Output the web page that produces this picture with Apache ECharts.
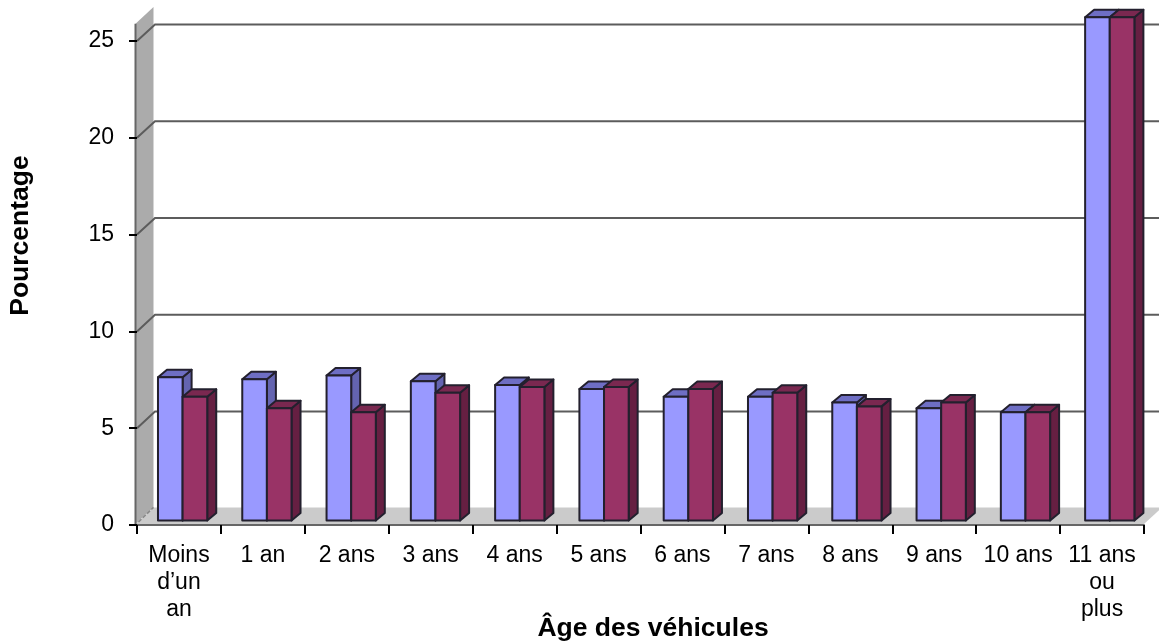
<!DOCTYPE html>
<html><head><meta charset="utf-8">
<style>html,body{margin:0;padding:0;background:#fff}#c{width:1159px;height:644px}</style>
<script src="https://cdn.jsdelivr.net/npm/echarts@6/dist/echarts.min.js"></script>
</head><body><div id="c"></div>
<script>
const categories = ['Moins\nd’un\nan','1 an','2 ans','3 ans','4 ans','5 ans','6 ans','7 ans','8 ans','9 ans','10 ans','11 ans\nou\nplus'];
const seriesA = [7.4,7.3,7.5,7.2,7.0,6.8,6.4,6.4,6.1,5.8,5.6,26.0];
const seriesB = [6.4,5.8,5.6,6.6,6.9,6.9,6.8,6.6,5.9,6.1,5.6,26.0];
const gridValues = [5,10,15,20,25];
const wallTop = 26.05;

const DX = 18, DY = 16.6;          // depth of the box
const BDX = 9, BDY = 7.5;          // depth of a bar
const BASE_LIFT = 4.4;             // bars stand slightly behind the front edge
const PERSPECTIVE = 0.37;          // extra horizontal spread of bars per category

const font = '"Liberation Sans", Arial, sans-serif';
const chart = echarts.init(document.getElementById('c'), null, {renderer:'canvas'});

function frameItem(params, api){
  const w = api.size([1,0])[0];
  const o = api.coord([0, 0]);
  const left = o[0] - w/2;
  const right = api.coord([categories.length-1, 0])[0] + w/2;
  const x0 = left - 1.5, y0 = o[1] - 1;
  const top = api.coord([0, wallTop])[1];
  return {type:'group', children:[
    {type:'polygon', shape:{points:[[x0,y0],[x0+DX,y0-DY],[x0+DX,top-DY+3],[x0,top+3]]}, style:{fill:'#ababab'}},
    {type:'polygon', shape:{points:[[x0,y0],[x0+DX,y0-DY],[right+DX,y0-DY],[right,y0]]}, style:{fill:'#cbcbcb'}},
    {type:'line', shape:{x1:x0,y1:y0+1,x2:x0,y2:top+3}, style:{stroke:'#666',lineWidth:2}},
    {type:'line', shape:{x1:x0+3,y1:y0-2,x2:x0+DX,y2:y0-DY}, style:{stroke:'#888',lineWidth:1.5,lineDash:[4,2]}}
  ]};
}
function gridItem(params, api){
  const w = api.size([1,0])[0];
  const p = api.coord([0, api.value(0)]);
  const left = p[0] - w/2;
  return {type:'polyline', shape:{points:[[left,p[1]],[left+DX,p[1]-DY],[api.getWidth(),p[1]-DY]]},
    style:{fill:null, stroke:'#5c5c5c', lineWidth:2}};
}
function barItem(slot, fills){
  return function(params, api){
    const cat = api.value(0), val = api.value(1);
    const c = api.coord([cat, 0]);
    const top = api.coord([cat, val])[1] - BASE_LIFT;
    const w = api.size([1,0])[0];
    const bw = w * 0.2935;
    const x = c[0] - w/2 + w*0.25 + slot*bw + cat*PERSPECTIVE;
    const b = c[1] - BASE_LIFT;
    const stroke = {stroke:'#23202e', lineWidth:2, lineJoin:'round'};
    return {type:'group', children:[
      {type:'polygon', shape:{points:[[x+bw,b],[x+bw+BDX,b-BDY],[x+bw+BDX,top-BDY],[x+bw,top]]}, style:Object.assign({fill:fills[2]},stroke)},
      {type:'polygon', shape:{points:[[x,top],[x+BDX,top-BDY],[x+bw+BDX,top-BDY],[x+bw,top]]}, style:Object.assign({fill:fills[1]},stroke)},
      {type:'rect', shape:{x:x,y:top,width:bw,height:b-top}, style:Object.assign({fill:fills[0]},stroke)}
    ]};
  };
}
const blue = ['#9999ff','#6e6ec4','#6464b0'];
const maroon = ['#993366','#7a2850','#661f42'];

chart.setOption({
  animation:false,
  grid:{left:137,right:15,top:41,bottom:119,outerBoundsMode:'none'},
  xAxis:{type:'category',data:categories,z:5,
    name:'Âge des véhicules',nameLocation:'middle',nameGap:90,nameMoveOverlap:false,
    nameTextStyle:{fontFamily:font,fontSize:26.5,fontWeight:'bold',color:'#000',padding:[0,0,0,25]},
    axisLine:{lineStyle:{color:'#666',width:2}},
    axisTick:{show:true,length:9,lineStyle:{color:'#000',width:2}},
    axisLabel:{interval:0,color:'#000',fontFamily:font,fontSize:23,lineHeight:27,margin:17.5}},
  yAxis:{type:'value',min:0,max:25,interval:5,z:5,
    name:'Pourcentage',nameLocation:'middle',nameGap:103,
    nameTextStyle:{fontFamily:font,fontSize:26.5,fontWeight:'bold',color:'#000',padding:[0,0,0,95]},
    axisLine:{show:false},
    axisTick:{show:true,length:8,lineStyle:{color:'#000',width:2}},
    axisLabel:{color:'#000',fontFamily:font,fontSize:23,margin:23,padding:[3,0,0,0]},
    splitLine:{show:false}},
  series:[
    {type:'custom',coordinateSystem:'cartesian2d',silent:true,z:1,renderItem:frameItem,data:[[0,0]],encode:{x:0,y:1}},
    {type:'custom',coordinateSystem:'cartesian2d',silent:true,z:2,renderItem:gridItem,data:gridValues.map(v=>[v]),encode:{y:0}},
    {type:'custom',name:'A',coordinateSystem:'cartesian2d',z:3,renderItem:barItem(0,blue),data:seriesA.map((v,i)=>[i,v]),encode:{x:0,y:1}},
    {type:'custom',name:'B',coordinateSystem:'cartesian2d',z:3,renderItem:barItem(1,maroon),data:seriesB.map((v,i)=>[i,v]),encode:{x:0,y:1}}
  ]
});
</script></body></html>
